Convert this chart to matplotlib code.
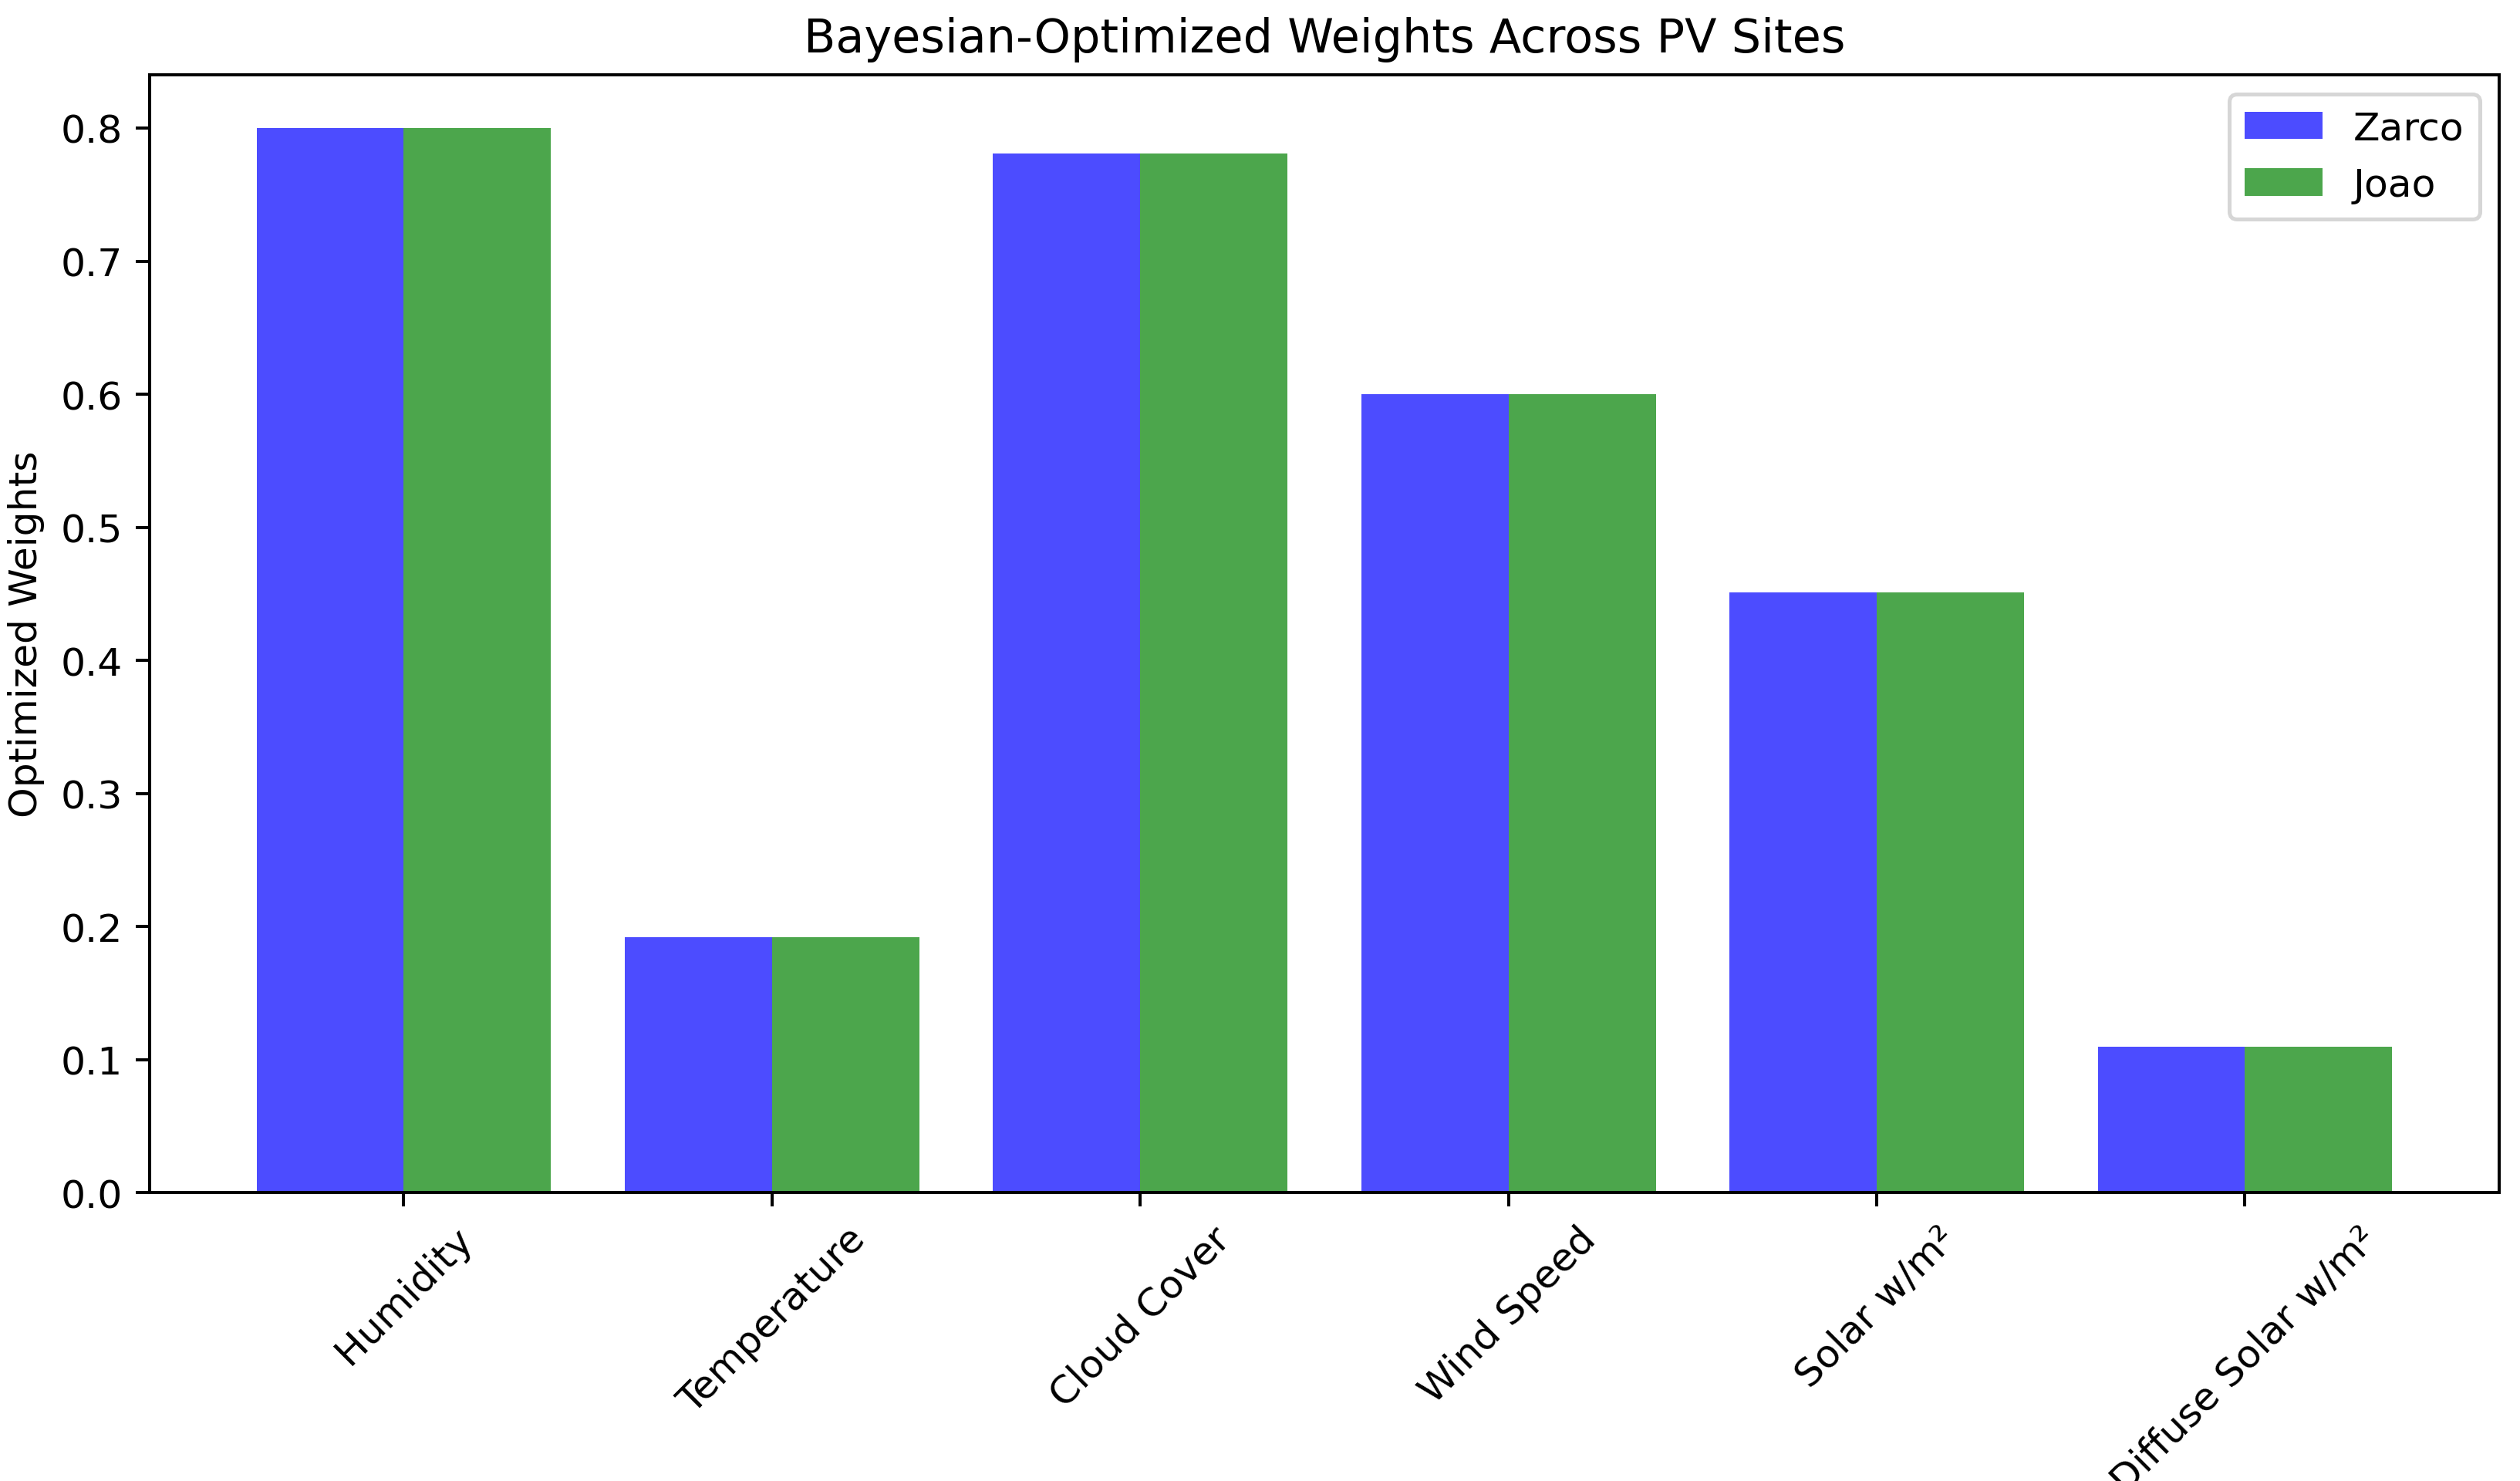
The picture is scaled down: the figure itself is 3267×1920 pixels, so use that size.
import matplotlib.pyplot as plt
import numpy as np

# the reference text looks a bit narrower than plain DejaVu Sans
plt.rcParams['font.family'] = ['DejaVu Sans Condensed', 'DejaVu Sans']

# data
features = ['Humidity', 'Temperature', 'Cloud Cover', 'Wind Speed',
            'Solar w/m²', 'Diffuse Solar w/m²']
zarco_weights = [0.800, 0.192, 0.781, 0.600, 0.451, 0.110]
joao_weights = [0.800, 0.192, 0.781, 0.600, 0.451, 0.110]

x = np.arange(len(features))
width = 0.4

fig, ax = plt.subplots(figsize=(9.0, 5.292), dpi=363)
fig.subplots_adjust(left=0.0594, right=0.9917, bottom=0.1945, top=0.949)

# grouped bars
ax.bar(x - width / 2, zarco_weights, width, label='Zarco', color='blue', alpha=0.7)
ax.bar(x + width / 2, joao_weights, width, label='Joao', color='green', alpha=0.7)

ax.set_xticks(x)
ax.set_xticklabels(features, rotation=45)
ax.set_ylabel('Optimized Weights')
ax.set_title('Bayesian-Optimized Weights Across PV Sites')
ax.legend(loc='upper right')

plt.savefig('out.png', dpi=363)
